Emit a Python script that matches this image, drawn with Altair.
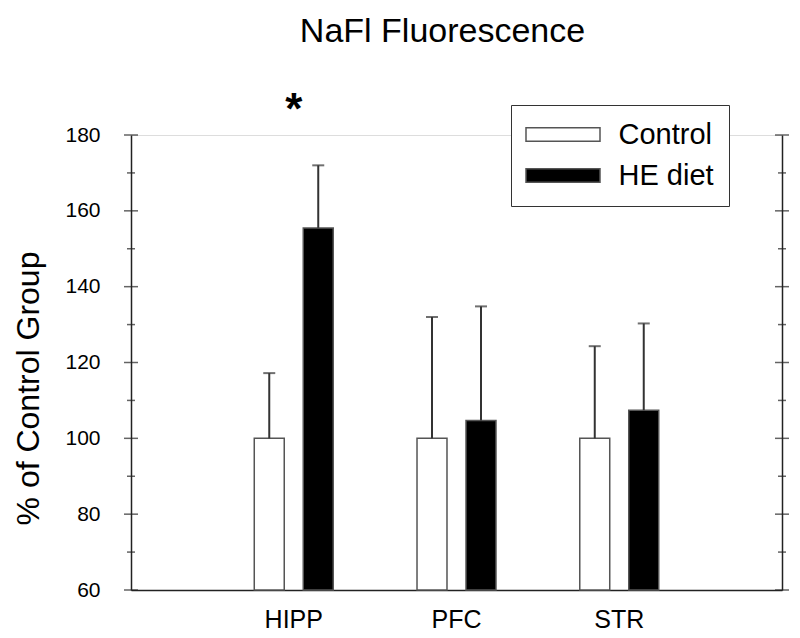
import altair as alt
import pandas as pd

# ---- data ----
regions = ["HIPP", "PFC", "STR"]
groups = ["Control", "HE diet"]
control_mean = [100.0, 100.0, 100.0]
control_err = [17.2, 32.0, 24.3]
he_mean = [155.5, 104.7, 107.4]
he_err = [16.5, 30.1, 22.9]
major_ticks = [60, 80, 100, 120, 140, 160, 180]
minor_ticks = [70, 90, 110, 130, 150, 170]
y_min = 60
star_region = "HIPP"
star_group = "HE diet"

rows = []
for i, r in enumerate(regions):
    rows.append(dict(region=r, group=groups[0], mean=control_mean[i],
                     top=control_mean[i] + control_err[i]))
    rows.append(dict(region=r, group=groups[1], mean=he_mean[i],
                     top=he_mean[i] + he_err[i]))
df = pd.DataFrame(rows)
ticks_df = pd.DataFrame({
    "v": major_ticks + minor_ticks,
    "major": [True] * len(major_ticks) + [False] * len(minor_ticks),
})
star_df = df[(df.region == star_region) & (df.group == star_group)]

W, H = 651, 455
FONT = "Liberation Sans"
AX = "#222222"
ysc = alt.Scale(domain=[60, 180], zero=False, nice=False)
xsc = alt.Scale(domain=regions, paddingInner=0, paddingOuter=0.5)

xenc = alt.X(
    "region:N", sort=regions, scale=xsc,
    axis=alt.Axis(title=None, labelAngle=0, ticks=False, domain=True,
                  domainColor=AX, domainWidth=1.5, labelFontSize=25,
                  labelPadding=17, labelColor="black", labelFont=FONT,
                  grid=False),
)
xoff = alt.XOffset("group:N", sort=groups,
                   scale=alt.Scale(domain=groups, paddingInner=0.388,
                                   paddingOuter=0.855))

bars = alt.Chart(df).mark_bar(stroke="#555555", strokeWidth=1.5).encode(
    x=xenc,
    xOffset=xoff,
    y=alt.Y("mean:Q", scale=ysc,
            axis=alt.Axis(orient="left", title="% of Control Group",
                          values=major_ticks, ticks=False, domain=True,
                          domainColor=AX, domainWidth=1.5, grid=False,
                          labelFontSize=21, labelPadding=31, labelColor="black",
                          labelFont=FONT, titleFont=FONT, titleFontSize=32,
                          titleFontWeight="normal", titleColor="black",
                          titleAngle=270, titleBaseline="middle",
                          titleAlign="center", titleX=-103, titleY=253)),
    y2=alt.Y2(datum=y_min),
    fill=alt.Fill("group:N", sort=groups,
                  scale=alt.Scale(domain=groups, range=["white", "black"]),
                  legend=alt.Legend(
                      title=None, orient="none", legendX=380, legendY=-30,
                      direction="vertical", labelFontSize=29, labelFont=FONT,
                      labelColor="black",
                      symbolType="M-5.286,-0.95H5.286V0.95H-5.286Z",
                      symbolSize=196, symbolStrokeWidth=1.5,
                      symbolStrokeColor="#555555", symbolOffset=22.5,
                      labelOffset=41, rowPadding=11, padding=15,
                      strokeColor="#333333", fillColor="white")),
)

err = alt.Chart(df).mark_rule(color="#333333", strokeWidth=2).encode(
    x=xenc,
    xOffset=xoff,
    y=alt.Y("mean:Q", scale=ysc,
            axis=alt.Axis(orient="right", title=None, labels=False, ticks=False,
                          domain=True, domainColor=AX, domainWidth=1.5,
                          grid=False)),
    y2="top:Q",
)

caps = alt.Chart(df).mark_tick(color="#333333", thickness=2, size=12,
                               orient="horizontal").encode(
    x=xenc,
    xOffset=xoff,
    y=alt.Y("top:Q", scale=ysc, axis=None),
)

left_ticks = alt.Chart(ticks_df).mark_tick(color=AX, thickness=1.5,
                                           orient="horizontal").encode(
    x=alt.value(0),
    y=alt.Y("v:Q", scale=ysc, axis=None),
    size=alt.condition("datum.major", alt.value(14), alt.value(8)),
)
right_ticks = alt.Chart(ticks_df).mark_tick(color=AX, thickness=1.5,
                                            orient="horizontal").encode(
    x=alt.value("width"),
    y=alt.Y("v:Q", scale=ysc, axis=None),
    size=alt.condition("datum.major", alt.value(14), alt.value(8)),
)

star = alt.Chart(star_df).mark_text(text="*", fontSize=44, fontWeight="bold",
                                    font=FONT, color="black", dy=-54).encode(
    x=xenc,
    y=alt.Y("top:Q", scale=ysc, axis=None),
)

chart = alt.layer(bars, err, caps, left_ticks, right_ticks, star).resolve_axis(
    y="independent"
).properties(
    width=W, height=H,
    title=alt.Title("NaFl Fluorescence", fontSize=34, fontWeight="normal",
                    font=FONT, color="black", anchor="middle", frame="group",
                    baseline="bottom", offset=6, dx=-14),
    autosize=alt.AutoSizeParams(type="none"),
    padding={"left": 123, "top": 127, "right": 8, "bottom": 45},
).configure_view(stroke=None).configure_axis(grid=False).configure(font=FONT)

chart.save("out.html", embed_options={"renderer": "svg", "actions": False})
